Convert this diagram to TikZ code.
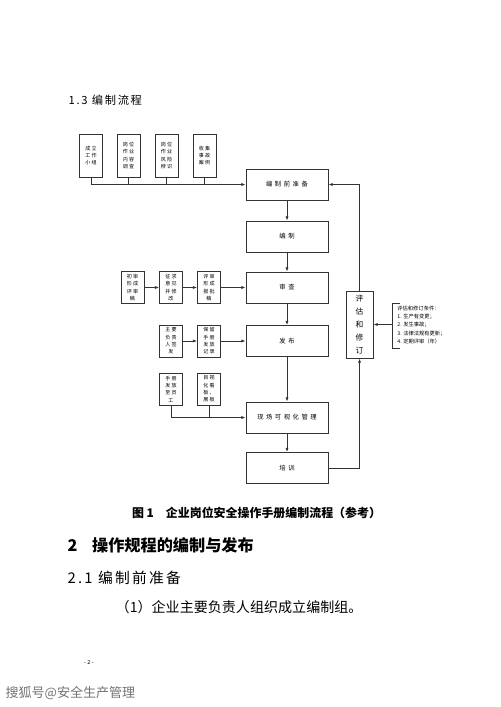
\documentclass[tikz,border=0pt]{standalone}
\usepackage{fontspec}
\setmainfont{Noto Sans CJK SC}
\newfontfamily\boxfont[LetterSpace=40]{Noto Sans CJK SC}
\newfontfamily\smallfont[LetterSpace=20]{Noto Sans CJK SC}
\newfontfamily\headfont[LetterSpace=15]{Noto Sans CJK SC}
\usetikzlibrary{arrows.meta}

\begin{document}
\begin{tikzpicture}[x=0.05cm,y=-0.05cm,line width=1.1pt,draw=black!80,
  box/.style={draw,line width=1.3pt,minimum width=4.1cm,minimum height=1.55cm,inner sep=0pt,font=\boxfont\fontsize{9}{10}\selectfont},
  sbox/.style={draw,line width=1.2pt,minimum width=1.15cm,minimum height=1.6cm,inner sep=1pt,align=center,font=\smallfont\fontsize{7.2}{10.5}\selectfont},
  ebox/.style={draw,line width=1.3pt,minimum width=1.35cm,minimum height=3.35cm,inner sep=0pt,align=center,font=\fontsize{11}{18.5}\selectfont},
  arr/.style={-{Latex[length=6pt,width=4.5pt]}}]
\fill[white] (0,0) rectangle (500,707);
\useasboundingbox (0,0) rectangle (500,707);

\node[anchor=west,font=\headfont\fontsize{16}{18}\selectfont] (h13) at (66,100) {1.3 编制流程};

% top row
\node[sbox,minimum height=2.15cm] (t1) at (91,155.5) {成立\\工作\\小组};
\node[sbox,minimum height=2.15cm] (t2) at (128.5,155.5) {岗位\\作业\\内容\\调查};
\node[sbox,minimum height=2.15cm] (t3) at (166.5,155.5) {岗位\\作业\\风险\\辨识};
\node[sbox,minimum height=2.15cm] (t4) at (204.5,155.5) {收集\\事故\\案例};

% main column
\node[box] (prep) at (287,184.5) {编制前准备};
\node[box] (write) at (287,236.5) {编制};
\node[box] (check) at (287,287.5) {审查};
\node[box] (issue) at (287,341) {发布};
\node[box] (site) at (287,417.5) {现场可视化管理};
\node[box] (train) at (287,468) {培训};

% side rows
\node[sbox] (r1) at (132.5,287.5) {初审\\形成\\评审\\稿};
\node[sbox] (r2) at (171,287.5) {征求\\意见\\并修\\改};
\node[sbox] (r3) at (209,287.5) {评审\\形成\\报批\\稿};
\node[sbox] (p1) at (171,341) {主要\\负责\\人签\\发};
\node[sbox] (p2) at (209,341) {保留\\手册\\发放\\记录};
\node[sbox] (v1) at (171,389) {手册\\发放\\至员\\工};
\node[sbox] (v2) at (209,389) {目视\\化看\\板、\\展板};

\node[ebox] (eval) at (359.5,324.5) {评\\估\\和\\修\\订};
\coordinate (brk) at (392,324.5);
\node[anchor=west,align=left,inner sep=0pt,font=\fontsize{7.5}{11.8}\selectfont] (cond) at (397,325)
  {评估和修订条件：\\1. 生产有变更；\\2. 发生事故；\\3. 法律法规有更新；\\4. 定期评审（年）};

\draw[arr] (t1.south) |- (prep.west);
\draw (t2.south) -- (t2.south |- prep.west);
\draw (t3.south) -- (t3.south |- prep.west);
\draw (t4.south) -- (t4.south |- prep.west);

\draw[arr] (prep) -- (write);
\draw[arr] (write) -- (check);
\draw[arr] (check) -- (issue);
\draw[arr] (issue) -- (site);
\draw[arr] (site) -- (train);

\draw[arr] (r1) -- (r2);
\draw[arr] (r2) -- (r3);
\draw[arr] (r3) -- (check);
\draw[arr] (p1) -- (p2);
\draw[arr] (p2) -- (issue);
\draw[arr] (v1.south) |- (site.west);
\draw (v2.south) -- (v2.south |- site.west);

\draw[arr] (train.east) -| (eval.south);
\draw[arr] (eval.north) |- (prep.east);
\draw (400,303) -- (392,303) -- (392,348) -- (400,348);
\draw[arr] (brk) -- (eval.east);

\node[font=\bfseries\fontsize{17}{19}\selectfont] (cap) at (256.5,513) {图 1\quad 企业岗位安全操作手册编制流程（参考）};
\node[anchor=west,font=\bfseries\fontsize{23}{27}\selectfont] (h2) at (65,545) {2\hspace{0.9em}操作规程的编制与发布};
\node[anchor=west,font=\headfont\fontsize{21}{24}\selectfont] (h21) at (65,578) {2.1 编制前准备};
\node[anchor=west,font=\fontsize{20}{23}\selectfont] (para) at (113,607) {（1）企业主要负责人组织成立编制组。};
\node[font=\fontsize{8}{9}\selectfont] (pg) at (89,662) {- 2 -};
\node[anchor=west,text=black!55,font=\fontsize{18.5}{21}\selectfont] (wm) at (3,693) {搜狐号@安全生产管理};
\end{tikzpicture}
\end{document}
